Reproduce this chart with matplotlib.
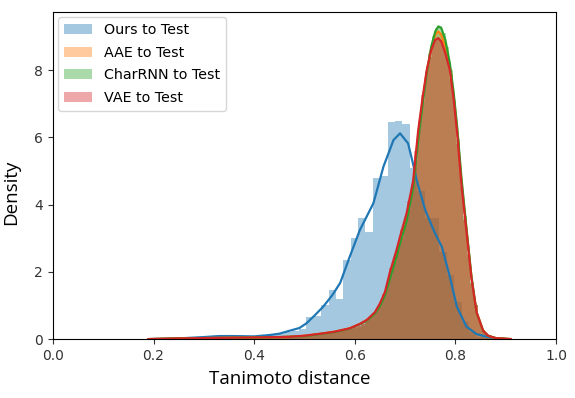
import numpy as np
import matplotlib
matplotlib.use("Agg")
import matplotlib.pyplot as plt

labels = ["Ours to Test", "AAE to Test", "CharRNN to Test", "VAE to Test"]
colors = ["#1f77b4", "#ff7f0e", "#2ca02c", "#d62728"]

# ---- histogram bins ----
ours_bin_lo, ours_bin_hi, ours_nbins = 0.195, 0.93, 50
base_bin_lo, base_bin_hi, base_nbins = 0.20, 0.90, 100

ours_hist = [0.0, 0.0, 0.01, 0.01, 0.02, 0.04, 0.05, 0.07, 0.09, 0.08,
             0.10, 0.09, 0.09, 0.08, 0.09, 0.11, 0.12, 0.15, 0.20, 0.25,
             0.30, 0.65, 0.68, 1.00, 1.45, 1.20, 2.35, 3.00, 3.60, 3.20,
             4.80, 4.85, 6.45, 6.50, 6.40, 5.10, 4.40, 3.60, 3.60, 2.60,
             1.90, 1.10, 0.50, 0.20, 0.06, 0.02, 0.0, 0.0, 0.0, 0.0]

aae_hist = [0.01, 0.01, 0.01, 0.02, 0.01, 0.02, 0.02, 0.02, 0.02, 0.02,
            0.02, 0.03, 0.03, 0.03, 0.03, 0.03, 0.04, 0.03, 0.04, 0.04,
            0.04, 0.04, 0.04, 0.05, 0.04, 0.05, 0.05, 0.05, 0.05, 0.05,
            0.05, 0.06, 0.06, 0.06, 0.06, 0.06, 0.07, 0.07, 0.07, 0.08,
            0.09, 0.09, 0.10, 0.11, 0.12, 0.13, 0.14, 0.16, 0.17, 0.18,
            0.20, 0.21, 0.23, 0.25, 0.27, 0.29, 0.32, 0.36, 0.40, 0.44,
            0.54, 0.64, 0.74, 0.88, 1.07, 1.30, 1.62, 2.00, 2.38, 2.75,
            3.12, 3.50, 3.98, 4.50, 5.45, 6.38, 7.15, 7.90, 8.45, 8.90,
            9.08, 9.10, 8.88, 8.50, 7.88, 7.00, 5.88, 4.62, 3.60, 2.52,
            1.68, 1.00, 0.55, 0.28, 0.13, 0.07, 0.04, 0.02, 0.01, 0.01]

charrnn_hist = [0.01, 0.01, 0.01, 0.01, 0.01, 0.02, 0.02, 0.02, 0.02, 0.02,
                0.02, 0.03, 0.03, 0.03, 0.03, 0.03, 0.03, 0.03, 0.04, 0.04,
                0.04, 0.04, 0.04, 0.04, 0.04, 0.05, 0.05, 0.05, 0.05, 0.05,
                0.05, 0.05, 0.06, 0.06, 0.06, 0.06, 0.06, 0.06, 0.07, 0.07,
                0.08, 0.08, 0.09, 0.10, 0.11, 0.12, 0.13, 0.15, 0.16, 0.17,
                0.19, 0.20, 0.21, 0.23, 0.25, 0.27, 0.30, 0.33, 0.37, 0.41,
                0.52, 0.62, 0.72, 0.86, 1.03, 1.25, 1.55, 1.90, 2.30, 2.65,
                3.00, 3.40, 3.85, 4.40, 5.30, 6.25, 7.05, 7.85, 8.50, 9.00,
                9.25, 9.30, 9.10, 8.70, 8.00, 7.10, 5.95, 4.70, 3.65, 2.55,
                1.70, 1.02, 0.56, 0.28, 0.13, 0.07, 0.04, 0.02, 0.01, 0.01]

vae_hist = [0.01, 0.01, 0.01, 0.02, 0.01, 0.02, 0.02, 0.02, 0.02, 0.02,
            0.02, 0.03, 0.03, 0.03, 0.03, 0.03, 0.04, 0.03, 0.04, 0.04,
            0.04, 0.04, 0.04, 0.05, 0.04, 0.05, 0.05, 0.05, 0.05, 0.05,
            0.05, 0.06, 0.06, 0.06, 0.06, 0.06, 0.07, 0.07, 0.07, 0.08,
            0.09, 0.09, 0.10, 0.11, 0.12, 0.13, 0.14, 0.16, 0.17, 0.18,
            0.20, 0.21, 0.23, 0.25, 0.27, 0.29, 0.32, 0.36, 0.40, 0.44,
            0.55, 0.65, 0.75, 0.90, 1.10, 1.35, 1.70, 2.10, 2.45, 2.85,
            3.25, 3.60, 4.10, 4.60, 5.60, 6.50, 7.25, 7.95, 8.40, 8.75,
            8.90, 8.90, 8.65, 8.30, 7.75, 6.90, 5.80, 4.55, 3.55, 2.50,
            1.65, 1.00, 0.55, 0.28, 0.13, 0.07, 0.04, 0.02, 0.01, 0.01]

# ---- KDE curves ----
ours_kde_x = [0.19, 0.25, 0.30, 0.33, 0.36, 0.40, 0.43, 0.45, 0.471, 0.49,
              0.504, 0.52, 0.537, 0.555, 0.571, 0.59, 0.61, 0.637, 0.657, 0.677,
              0.69, 0.706, 0.716, 0.723, 0.740, 0.755, 0.763, 0.773, 0.789, 0.803,
              0.822, 0.842, 0.862, 0.88, 0.90]
ours_kde_y = [0.0, 0.02, 0.06, 0.09, 0.09, 0.08, 0.12, 0.16, 0.25, 0.33,
              0.47, 0.70, 0.96, 1.30, 1.67, 2.45, 3.24, 4.04, 5.13, 5.92,
              6.12, 5.82, 5.20, 4.73, 3.84, 3.30, 3.04, 2.75, 1.85, 0.96,
              0.37, 0.15, 0.07, 0.02, 0.0]

base_kde_x = [0.19, 0.25, 0.30, 0.35, 0.40, 0.45, 0.471, 0.50, 0.537, 0.56,
              0.59, 0.61, 0.624, 0.64, 0.65, 0.66, 0.67, 0.683, 0.69, 0.703,
              0.716, 0.726, 0.735, 0.743, 0.752, 0.760, 0.766, 0.772, 0.780, 0.789,
              0.796, 0.803, 0.812, 0.822, 0.832, 0.842, 0.855, 0.865, 0.88, 0.91]
aae_kde_y = [0.0, 0.02, 0.03, 0.04, 0.05, 0.06, 0.07, 0.10, 0.17, 0.22,
             0.32, 0.45, 0.57, 0.78, 1.02, 1.35, 1.90, 2.55, 2.95, 3.62,
             4.60, 6.05, 7.10, 7.95, 8.65, 9.05, 9.15, 9.05, 8.70, 8.10,
             7.30, 6.30, 4.70, 3.25, 1.82, 0.80, 0.25, 0.10, 0.03, 0.0]
charrnn_kde_y = [0.0, 0.02, 0.03, 0.04, 0.05, 0.06, 0.07, 0.09, 0.16, 0.21,
                 0.31, 0.44, 0.55, 0.76, 0.98, 1.30, 1.80, 2.45, 2.85, 3.50,
                 4.50, 5.90, 7.00, 7.90, 8.70, 9.15, 9.30, 9.25, 8.90, 8.20,
                 7.40, 6.40, 4.80, 3.30, 1.85, 0.80, 0.25, 0.10, 0.03, 0.0]
vae_kde_y = [0.0, 0.02, 0.03, 0.04, 0.05, 0.06, 0.07, 0.10, 0.17, 0.22,
             0.32, 0.45, 0.57, 0.80, 1.06, 1.40, 2.00, 2.65, 3.05, 3.74,
             4.70, 6.20, 7.20, 8.00, 8.60, 8.90, 8.95, 8.85, 8.50, 8.00,
             7.20, 6.20, 4.60, 3.20, 1.80, 0.80, 0.25, 0.10, 0.03, 0.0]

x_ticks = [0.0, 0.2, 0.4, 0.6, 0.8, 1.0]
y_ticks = [0, 2, 4, 6, 8]

fig = plt.figure(figsize=(5.75, 3.98), dpi=100)
ax = fig.add_axes([0.092, 0.148, 0.875, 0.822])

ours_edges = np.linspace(ours_bin_lo, ours_bin_hi, ours_nbins + 1)
base_edges = np.linspace(base_bin_lo, base_bin_hi, base_nbins + 1)

hists = [(ours_edges, ours_hist), (base_edges, aae_hist),
         (base_edges, charrnn_hist), (base_edges, vae_hist)]
kdes = [(ours_kde_x, ours_kde_y), (base_kde_x, aae_kde_y),
        (base_kde_x, charrnn_kde_y), (base_kde_x, vae_kde_y)]

for (edges, h), (kx, ky), lab, c in zip(hists, kdes, labels, colors):
    ax.bar(edges[:-1], h, width=np.diff(edges), align="edge", color=c,
           alpha=0.4, linewidth=0, label=lab)
    ax.plot(kx, ky, color=c, lw=1.6)

ax.set_xlim(0, 1.0)
ax.set_ylim(0, 9.73)
ax.set_xticks(x_ticks)
ax.set_yticks(y_ticks)
ax.tick_params(labelsize=10, colors="#333333")
ax.set_xlabel("Tanimoto distance", fontsize=13.5, family="Open Sans")
ax.set_ylabel("Density", fontsize=13.5, family="Open Sans")
ax.xaxis.set_label_coords(0.471, -0.095)
ax.yaxis.set_label_coords(-0.066, 0.45)
ax.legend(loc="upper left", fontsize=10.3, labelspacing=0.62,
          borderaxespad=0.35)

fig.savefig("out.png", dpi=100)
